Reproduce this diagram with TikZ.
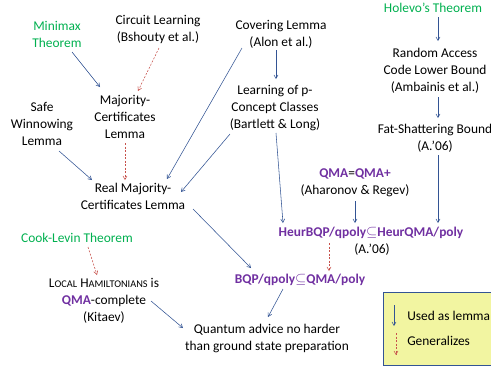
\documentclass[tikz,border=0pt]{standalone}
\usepackage{fontspec}
\setmainfont{Carlito}
\usepackage{tikz}
\usetikzlibrary{arrows}
\definecolor{myblue}{rgb}{0.20,0.33,0.58}
\definecolor{myred}{rgb}{0.78,0.32,0.30}
\definecolor{mygreen}{rgb}{0,0.69,0.31}
\definecolor{mypurple}{rgb}{0.44,0.19,0.63}
\definecolor{myyellow}{rgb}{0.95,0.96,0.63}
\newcommand{\hl}[1]{\textcolor{mypurple}{\textbf{#1}}}
\newcommand{\smc}[1]{{\fontsize{10.3}{17}\selectfont #1}}

\begin{document}
\begin{tikzpicture}[>=angle 60,x=1pt,y=-1pt,
	lbl/.style={align=center,inner sep=0pt,font=\fontsize{13.4}{17}\selectfont},
	thm/.style={lbl,text=mygreen},
	uses/.style={->,draw=myblue,line width=0.55pt},
	gen/.style={->,draw=myred,line width=0.55pt,dash pattern=on 2pt off 1.5pt}]
			\clip (0,0) rectangle (491,367);
			\useasboundingbox (0,0) rectangle (491,367);
			
			% Draw the results
			\node[thm] (minimax) at (57,34) {Minimax\\Theorem};
			\node[lbl] (circuit) at (158,29) {Circuit Learning\\(Bshouty et al.)};
			\node[lbl] (covering) at (281,34) {Covering Lemma\\(Alon et al.)};
			\node[thm] (holevo) at (433,8) {Holevo's Theorem};
			\node[lbl] (rac) at (435,71) {Random Access\\Code Lower Bound\\(Ambainis et al.)};
			\node[lbl] (fat) at (435,138) {Fat-Shattering Bound\\(A.'06)};
			\node[lbl] (majority) at (125,117) {Majority-\\Certificates\\Lemma};
			\node[lbl] (safe) at (42,124) {Safe\\Winnowing\\Lemma};
			\node[lbl] (learning) at (275,108) {Learning of p-\\Concept Classes\\(Bartlett \& Long)};
			\node[lbl] (real) at (133,196) {Real Majority-\\Certificates Lemma};
			\node[lbl] (qmaplus) at (355,183) {\hl{QMA}=\hl{QMA+}\\(Aharonov \& Regev)};
			\node[lbl] (heur) at (371,233) {\hl{HeurBQP/qpoly$\subseteq$HeurQMA/poly}};
			\node[lbl] (heurref) at (372,250) {(A.'06)};
			\node[lbl] (bqp) at (300,280) {\hl{BQP/qpoly$\subseteq$QMA/poly}};
			\node[thm] (cook) at (77,238) {Cook-Levin Theorem};
			\node[lbl] (local) at (104,301) {L\smc{OCAL} H\smc{AMILTONIANS} is\\\hl{QMA}-complete\\(Kitaev)};
			\node[lbl] (quantum) at (267,338) {Quantum advice no harder\\than ground state preparation};
			
			% Draw the dependencies
			\draw[uses] ([xshift=15pt,yshift=-18pt]minimax.center) -- ([xshift=-25pt,yshift=30pt]majority.center);
			\draw[gen] ([xshift=1pt,yshift=-19pt]circuit.center) -- ([xshift=13pt,yshift=26pt]majority.center);
			\draw[gen] ([yshift=-26pt]majority.center) -- ([xshift=-8pt,yshift=16pt]real.center);
			\draw[uses] ([xshift=17pt,yshift=-27pt]safe.center) -- ([xshift=-41pt,yshift=16pt]real.center);
			\draw[uses] ([xshift=-39pt,yshift=-14pt]covering.center) -- ([xshift=34pt,yshift=17pt]real.center);
			\draw[uses] ([xshift=-45pt,yshift=-26pt]learning.center) -- ([xshift=48pt,yshift=4pt]real.center);
			\draw[uses] ([xshift=-5pt,yshift=-16pt]covering.center) -- ([xshift=1pt,yshift=29pt]learning.center);
			\draw[uses] ([xshift=5pt,yshift=-9pt]holevo.center) -- ([xshift=3pt,yshift=30pt]rac.center);
			\draw[uses] ([xshift=3pt,yshift=-26pt]rac.center) -- ([xshift=3pt,yshift=20pt]fat.center);
			\draw[uses] ([xshift=3pt,yshift=-17pt]fat.center) -- ([xshift=67pt,yshift=10pt]heur.center);
			\draw[uses] ([xshift=1pt,yshift=-25pt]learning.center) -- ([xshift=-88pt,yshift=10pt]heur.center);
			\draw[uses] ([yshift=-18pt]qmaplus.center) -- ([xshift=-16pt,yshift=10pt]heur.center);
			\draw[gen] ([xshift=-42pt,yshift=-10pt]heur.center) -- ([xshift=29pt,yshift=9pt]bqp.center);
			\draw[uses] ([xshift=60pt,yshift=-13pt]real.center) -- ([xshift=-49pt,yshift=12pt]bqp.center);
			\draw[uses] ([xshift=-17pt,yshift=-9pt]bqp.center) -- ([xshift=1pt,yshift=21pt]quantum.center);
			\draw[uses] ([xshift=47pt]local.center) -- ([xshift=-84pt,yshift=10pt]quantum.center);
			\draw[gen] ([xshift=11pt,yshift=-9pt]cook.center) -- ([xshift=-7pt,yshift=26pt]local.center);
			
			% Draw the legend
			\draw[myblue,fill=myyellow] (383,292) rectangle (497,365);
			\draw[uses] (394,305) -- (394,326) node[lbl,text=black,anchor=west] (lemma) at (407,316) {Used as lemma};
			\draw[gen] (396,333) -- (396,355) node[lbl,text=black,anchor=west] (generalizes) at (407,341) {Generalizes};
		\end{tikzpicture}
\end{document}
